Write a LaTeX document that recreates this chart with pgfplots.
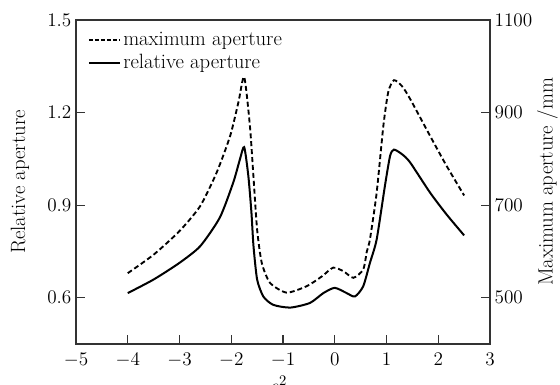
\documentclass[border=0pt]{standalone}
\usepackage{pgfplots}
\pgfplotsset{compat=1.18}
\definecolor{axisgray}{HTML}{333333}
\newcommand{\fs}{\fontsize{15.5}{17}\selectfont}
\pgfplotstableread{
x y
-4.00 0.615
-3.50 0.659
-3.00 0.713
-2.60 0.767
-2.22 0.860
-1.96 0.974
-1.83 1.050
-1.75 1.088
-1.67 0.995
-1.61 0.876
-1.57 0.767
-1.50 0.659
-1.38 0.604
-1.19 0.577
-0.86 0.568
-0.48 0.583
-0.22 0.615
0.00 0.632
0.23 0.615
0.39 0.604
0.55 0.637
0.68 0.713
0.81 0.789
0.97 0.963
1.07 1.060
1.145 1.080
1.30 1.065
1.454 1.039
1.84 0.941
2.16 0.870
2.50 0.802
}\relative
\pgfplotstableread{
x y
-4.00 553
-3.50 593
-3.00 644
-2.60 698
-2.28 771
-2.02 850
-1.86 923
-1.75 977
-1.64 872
-1.57 760
-1.50 647
-1.41 575
-1.25 532
-0.93 511
-0.54 525
-0.25 546
-0.03 565
0.17 557
0.36 543
0.55 561
0.62 600
0.68 626
0.81 727
0.94 872
1.035 945
1.145 970
1.30 957
1.454 930
1.84 850
2.16 785
2.50 721
}\maximum
\begin{document}
\begin{tikzpicture}
\begin{axis}[
  at={(57pt,30.75pt)}, anchor=south west,
  scale only axis, width=310.5pt, height=243pt,
  xmin=-5, xmax=3, ymin=0.45, ymax=1.5,
  xtick={-5,...,3}, ytick={0.6,0.9,1.2,1.5},
  xtick pos=bottom, ytick pos=left,
  tick align=inside, major tick length=6.75pt,
  axis line style={axisgray, line width=0.9pt},
  tick style={axisgray, line width=0.8pt},
  yticklabel style={/pgf/number format/.cd, fixed, fixed zerofill, precision=1},
  ticklabel style={font=\fs},
  xticklabel style={yshift=-3pt},
  label style={font=\fs},
  xlabel={$e^2$},
  xlabel style={at={(axis description cs:0.49,0)}, anchor=north, yshift=-24pt, inner sep=0pt},
  ylabel={Relative aperture},
  ylabel style={at={(axis description cs:0,0.5)}, anchor=center, yshift=42pt},
  legend style={draw=none, fill=none, font=\fs, at={(0.025,0.975)}, anchor=north west,
    row sep=1pt, inner sep=1pt},
  legend cell align=left,
  legend image code/.code={\draw[#1] (0pt,0pt) -- (23pt,0pt);},
]
\addlegendimage{black, line width=1pt, dash pattern=on 3pt off 1.5pt}
\addlegendentry{maximum aperture}
\addplot[black, line width=1.5pt, smooth, tension=0.4] table[x=x,y=y] {\relative};
\addlegendentry{relative aperture}
\end{axis}
\begin{axis}[
  at={(57pt,30.75pt)}, anchor=south west,
  scale only axis, width=310.5pt, height=243pt,
  xmin=-5, xmax=3, ymin=400, ymax=1100,
  hide x axis, axis y line*=right,
  ytick={500,700,900,1100},
  yticklabel style={/pgf/number format/.cd, set thousands separator={}},
  tick align=inside, major tick length=6.75pt,
  axis line style={axisgray, line width=0.9pt},
  tick style={axisgray, line width=0.8pt},
  ticklabel style={font=\fs},
  label style={font=\fs},
  ylabel={Maximum aperture /mm},
  ylabel style={at={(axis description cs:1,0.5)}, anchor=center, yshift=-43pt},
]
\addplot[black, line width=1.4pt, dash pattern=on 3.75pt off 2.2pt, smooth, tension=0.4] table[x=x,y=y] {\maximum};
\end{axis}
\pgfresetboundingbox
\path (0pt,0pt) rectangle (420pt,288.75pt);
\end{tikzpicture}
\end{document}
